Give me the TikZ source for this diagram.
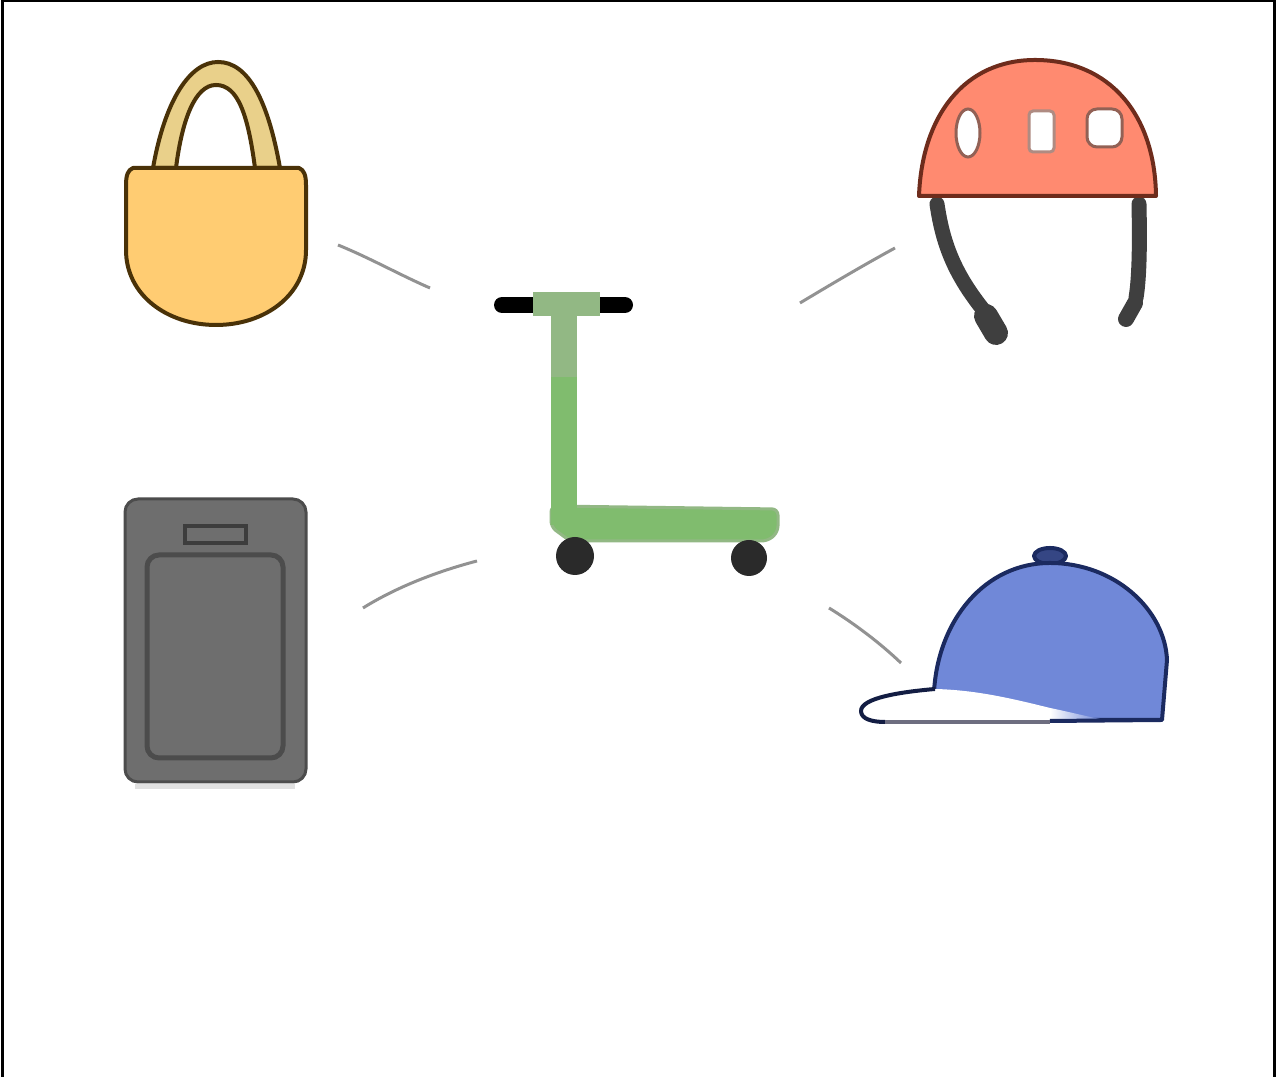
\documentclass[tikz,border=0pt]{standalone}
\usepackage{xcolor}
\usepackage{tikz}
\definecolor{bagfill}{HTML}{FFCC72}
\definecolor{handlefill}{HTML}{E9D08A}
\definecolor{bagline}{HTML}{4A3208}
\definecolor{helmetfill}{HTML}{FF8A70}
\definecolor{helmetline}{HTML}{6E2C1C}
\definecolor{strapgray}{HTML}{3F3F3F}
\definecolor{scootgreen}{HTML}{80BC6E}
\definecolor{scootpale}{HTML}{92B884}
\definecolor{wheelgray}{HTML}{2A2A2A}
\definecolor{capfill}{HTML}{7088D8}
\definecolor{capline}{HTML}{1B2A60}
\definecolor{brimgray}{HTML}{6E6E80}
\definecolor{devicefill}{HTML}{6E6E6E}
\definecolor{deviceline}{HTML}{4C4C4C}
\definecolor{linkgray}{HTML}{929292}
\tikzset{
  px/.style={line width=#1*0.01cm},
  bagshape/.style={draw=bagline, px=4, line join=round},
  helmetshape/.style={draw=helmetline, px=4, fill=helmetfill, line join=round},
  ventshape/.style={draw=helmetline!75, px=3, fill=white},
  strapline/.style={draw=strapgray, px=15, line cap=round},
  capshape/.style={draw=capline, px=4, fill=capfill, line join=round},
  deviceshape/.style={draw=deviceline, fill=devicefill, rounded corners=0.13cm},
  linkline/.style={draw=linkgray, px=3}
}
\begin{document}
\begin{tikzpicture}[x=0.01cm,y=-0.01cm]
  \useasboundingbox (0,0) rectangle (1278,1077);
  \draw[black, px=3] (3,1077) -- (3,1) -- (1274,1) -- (1274,1077);
  % bag
  \draw[bagshape, fill=handlefill] (153,168) .. controls (165,100) and (190,62) .. (218,62) .. controls (248,62) and (268,100) .. (280,168) -- (255,168) .. controls (248,115) and (238,85) .. (216,85) .. controls (195,85) and (182,120) .. (176,168) -- cycle;
  \draw[bagshape, fill=bagfill] (133,168) -- (299,168) .. controls (304,170) and (306,175) .. (306,185) -- (306,250) .. controls (306,295) and (265,325) .. (216,325) .. controls (167,325) and (126,295) .. (126,250) -- (126,185) .. controls (126,175) and (128,170) .. (133,168) -- cycle;
  % helmet
  \draw[strapline] (937,204) .. controls (943,245) and (955,275) .. (985,312);
  \draw[draw=strapgray, px=24, line cap=round] (986,316) -- (996,333);
  \draw[strapline] (1139,204) .. controls (1140,250) and (1139,280) .. (1136,298);
  \draw[draw=strapgray, px=16, line cap=round] (1135,303) -- (1126,319);
  \draw[helmetshape] (919,196) .. controls (922,115) and (965,60) .. (1035,60) .. controls (1110,60) and (1155,115) .. (1156,196) -- cycle;
  \draw[ventshape] (968,133) ellipse (12 and 24);
  \draw[ventshape, draw=helmetline!55, rounded corners=0.04cm] (1029,111) rectangle (1054,152);
  \draw[ventshape, rounded corners=0.1cm] (1087,109) rectangle (1122,147);
  % scooter
  \draw[draw=black, px=16, line cap=round] (502,305) -- (625,305);
  \draw[draw=scootpale, px=24] (533,304) -- (600,304);
  \fill[scootgreen, draw=scootpale, px=3, rounded corners=0.06cm] (551,506) -- (778,509) -- (778,532) -- (768,541) -- (570,541) -- (551,527) -- cycle;
  \draw[draw=scootpale, px=26] (564,300) -- (564,378);
  \draw[draw=scootgreen, px=26] (564,377) -- (564,525);
  \fill[wheelgray] (575,556) circle (19);
  \fill[wheelgray] (749,558) circle (18);
  % cap
  \draw[capshape, fill=capline!70!capfill] (1050,556) ellipse (16 and 8);
  \draw[capshape] (934,692) .. controls (938,620) and (985,563) .. (1050,563) .. controls (1115,563) and (1165,610) .. (1167,660) -- (1162,720) -- (934,720) -- cycle;
  \fill[white] (935,689) .. controls (900,692) and (861,698) .. (861,711) .. controls (861,719) and (872,722) .. (885,722) -- (1050,722) -- (1050,708) .. controls (1010,698) and (975,690) .. (935,689) -- cycle;
  \shade[left color=white, right color=capfill] (1050,708) .. controls (1065,711) and (1085,716) .. (1100,719) -- (1050,719) -- cycle;
  \draw[draw=capline!70!black, px=4, line join=round] (935,689) .. controls (900,692) and (861,698) .. (861,711) .. controls (861,719) and (872,722) .. (885,722);
  \draw[draw=brimgray, px=4] (885,722) -- (1050,722);
  \draw[draw=capline, px=4] (1050,721) -- (1162,720);
  % device
  \draw[black!12, px=5] (135,787) -- (295,787);
  \draw[deviceshape, px=3] (125,499) rectangle (306,782);
  \draw[deviceshape, px=5, rounded corners=0.12cm, fill=devicefill] (147,555) rectangle (283,758);
  \draw[draw=deviceline!80!black, px=4, fill=devicefill] (185,526) rectangle (246,543);
  % links
  \coordinate (bagend) at (338,245);
  \coordinate (scootbag) at (430,288);
  \coordinate (helmetend) at (895,248);
  \coordinate (scoothelmet) at (800,303);
  \coordinate (deviceend) at (363,608);
  \coordinate (scootdevice) at (477,561);
  \coordinate (capend) at (901,663);
  \coordinate (scootcap) at (829,608);
  \draw[linkline] (bagend) .. controls (370,258) and (400,275) .. (scootbag);
  \draw[linkline] (helmetend) .. controls (862,266) and (830,285) .. (scoothelmet);
  \draw[linkline] (deviceend) .. controls (395,588) and (435,572) .. (scootdevice);
  \draw[linkline] (capend) .. controls (880,643) and (855,624) .. (scootcap);
\end{tikzpicture}
\end{document}
